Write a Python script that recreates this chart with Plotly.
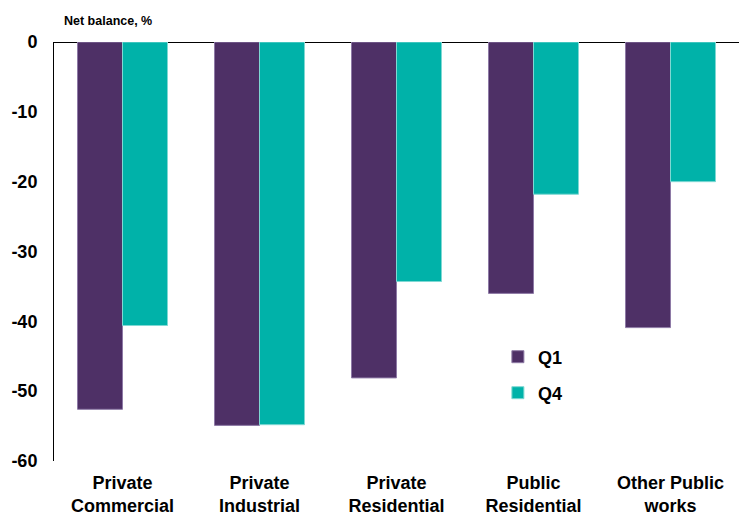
import plotly.graph_objects as go

categories = ["Private<br>Commercial", "Private<br>Industrial", "Private<br>Residential",
              "Public<br>Residential", "Other Public<br>works"]
q1 = [-52.6, -54.9, -48.1, -36.0, -40.9]
q4 = [-40.6, -54.8, -34.3, -21.8, -20.0]
yticks = [0, -10, -20, -30, -40, -50, -60]
yticklabels = ["0", "-10", "-20", "-30", "-40", "-50", "-60"]

PURPLE = "#4E3066"
TEAL = "#00B2A9"
FONT = "Liberation Sans, Arial, sans-serif"

fig = go.Figure()
fig.add_trace(go.Bar(x=categories, y=q1, name="Q1", legend="legend",
                     marker=dict(color=PURPLE, line=dict(color="#8E7AA6", width=1))))
fig.add_trace(go.Bar(x=categories, y=q4, name="Q4", legend="legend2",
                     marker=dict(color=TEAL, line=dict(color="#7FD8D3", width=1))))

legfont = dict(size=18, family=FONT, color="black", weight="bold")
fig.update_layout(
    width=740, height=515,
    margin=dict(l=54, r=1, t=42, b=54),
    plot_bgcolor="white", paper_bgcolor="white",
    barmode="group", bargap=0.343, bargroupgap=0,
    font=dict(family=FONT, color="black"),
    showlegend=True,
    legend=dict(x=0.648, y=(461 - 357) / 419, xanchor="left", yanchor="middle",
                font=legfont, bgcolor="rgba(0,0,0,0)", itemwidth=30),
    legend2=dict(x=0.648, y=(461 - 393) / 419, xanchor="left", yanchor="middle",
                 font=legfont, bgcolor="rgba(0,0,0,0)", itemwidth=30),
    annotations=[dict(text="<b>Net balance, %</b>", xref="paper", yref="paper",
                      x=(62 - 54) / 685, y=1 + (42 - 21) / 419,
                      xanchor="left", yanchor="middle",
                      showarrow=False, font=dict(size=12.5, family=FONT))],
)
fig.update_xaxes(showline=False, showgrid=False, ticks="", ticklabelstandoff=9,
                 automargin=False,
                 tickfont=dict(size=18, family=FONT, color="black", weight="bold"))
fig.update_yaxes(range=[-60, 0], tickvals=yticks, ticktext=yticklabels, showgrid=False,
                 showline=True, linecolor="black", linewidth=1,
                 zeroline=True, zerolinecolor="black", zerolinewidth=1,
                 ticks="", ticklabelstandoff=12, automargin=False,
                 tickfont=dict(size=18, family=FONT, color="black", weight="bold"))
fig.write_html("out.html")
